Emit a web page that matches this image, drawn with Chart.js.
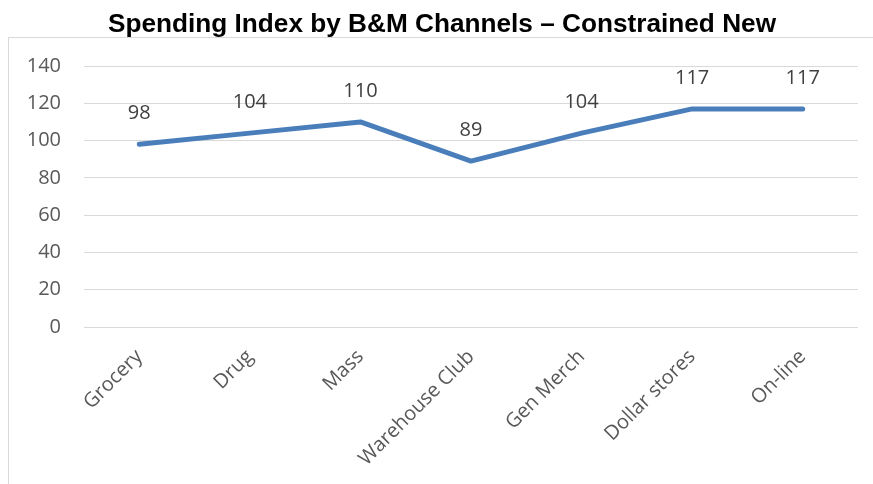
<!DOCTYPE html>
<html>
<head>
<meta charset="utf-8">
<script src="https://cdn.jsdelivr.net/npm/chart.js@4/dist/chart.umd.min.js"></script>
<style>
  html, body { margin: 0; padding: 0; background: #ffffff; }
  #wrap { position: relative; width: 873px; height: 484px; }
</style>
</head>
<body>
<div id="wrap"><canvas id="chart" width="873" height="484"></canvas></div>
<script>
// Spending index per bricks-and-mortar channel
const channels = ['Grocery', 'Drug', 'Mass', 'Warehouse Club', 'Gen Merch', 'Dollar stores', 'On-line'];
const spendingIndex = [98, 104, 110, 89, 104, 117, 117];
const yTicks = [0, 20, 40, 60, 80, 100, 120, 140];
const chartTitle = 'Spending Index by B&M Channels – Constrained New';

const tickFont = { family: "'Open Sans', 'DejaVu Sans', sans-serif", size: 20 };

// Light frame around the chart body
const framePlugin = {
  id: 'frame',
  beforeDraw(chart) {
    const ctx = chart.ctx;
    ctx.save();
    ctx.strokeStyle = '#d9d9d9';
    ctx.lineWidth = 1;
    ctx.strokeRect(8.5, 37.5, 900, 500);
    ctx.restore();
  }
};

// Bold title centred over the chart body
const titlePlugin = {
  id: 'headerTitle',
  afterDraw(chart) {
    const ctx = chart.ctx;
    ctx.save();
    ctx.font = "bold 26px 'Liberation Sans', Arial, sans-serif";
    ctx.fillStyle = '#000000';
    ctx.textBaseline = 'alphabetic';
    ctx.textAlign = 'center';
    const w = ctx.measureText(chartTitle).width;
    const sx = 668 / w;
    ctx.translate(442, 32);
    ctx.scale(sx, 1);
    ctx.fillText(chartTitle, 0, 0);
    ctx.restore();
  }
};

// Value labels above each point
const valueLabels = {
  id: 'valueLabels',
  afterDatasetsDraw(chart) {
    const ctx = chart.ctx;
    const meta = chart.getDatasetMeta(0);
    ctx.save();
    ctx.font = "20px 'Open Sans', 'DejaVu Sans', sans-serif";
    ctx.fillStyle = '#404040';
    ctx.textAlign = 'center';
    ctx.textBaseline = 'middle';
    meta.data.forEach((pt, i) => {
      ctx.fillText(String(chart.data.datasets[0].data[i]), pt.x, pt.y - 31);
    });
    ctx.restore();
  }
};

new Chart(document.getElementById('chart'), {
  type: 'line',
  data: {
    labels: channels,
    datasets: [{
      data: spendingIndex,
      borderColor: '#4a7ebb',
      borderWidth: 5,
      borderCapStyle: 'round',
      borderJoinStyle: 'round',
      pointRadius: 0,
      pointHoverRadius: 0,
      tension: 0,
      fill: false
    }]
  },
  options: {
    responsive: false,
    animation: false,
    events: [],
    layout: { padding: { top: 66, left: 0, right: 15, bottom: 0 } },
    plugins: {
      legend: { display: false },
      tooltip: { enabled: false },
      title: { display: false }
    },
    scales: {
      x: {
        offset: true,
        grid: { display: false, drawTicks: false },
        border: { display: false },
        ticks: {
          color: '#595959',
          font: tickFont,
          minRotation: 45,
          maxRotation: 45,
          padding: 18,
          autoSkip: false
        },
        afterFit(scale) { scale.height = 157; }
      },
      y: {
        min: 0,
        max: 140,
        afterBuildTicks(scale) { scale.ticks = yTicks.map(v => ({ value: v })); },
        grid: { color: '#d9d9d9', lineWidth: 1, drawTicks: false },
        border: { display: false },
        ticks: {
          color: '#595959',
          font: tickFont,
          padding: 23
        },
        afterFit(scale) { scale.width = 84; }
      }
    }
  },
  plugins: [framePlugin, titlePlugin, valueLabels]
});
</script>
</body>
</html>
